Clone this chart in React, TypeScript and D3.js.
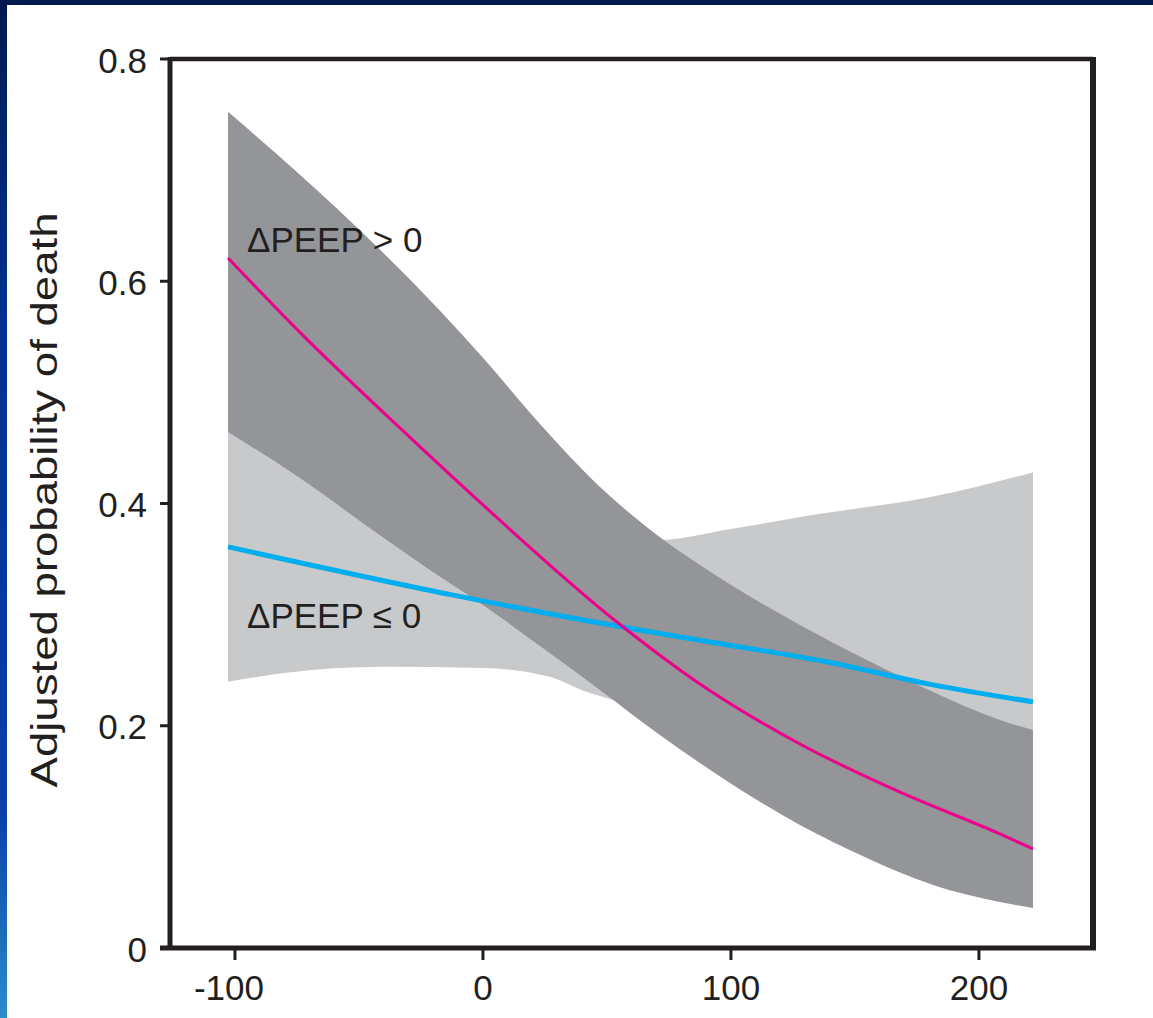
import React from "react";
import * as d3 from "d3";

// x tick values / y tick values
const xTicks = [-100, 0, 100, 200];
const yTicks = [0, 0.2, 0.4, 0.6, 0.8];
const yTickLabels = ["0", "0.2", "0.4", "0.6", "0.8"];

// ΔPEEP > 0 fitted line (pink)
const posFitX = [-102.8, -73.8, -33.5, 0, 54, 87.5, 127.8, 168, 208.5, 221.8];
const posFitY = [0.621, 0.554, 0.468, 0.3987, 0.2934, 0.2376, 0.1836, 0.1404, 0.1026, 0.0891];

// ΔPEEP <= 0 fitted line (blue)
const negFitX = [-102.8, -13, 47, 87.5, 141, 181, 221.8];
const negFitY = [0.361, 0.318, 0.2925, 0.277, 0.2565, 0.237, 0.2215];

// ΔPEEP > 0 confidence band (dark gray)
const posBandX = [-102.8, -73.8, -44.4, -17.3, 0, 23, 47.2, 70.2, 87.5, 127.8, 154.8, 181.5, 208.5, 221.8];
const posBandHi = [0.7525, 0.6958, 0.6346, 0.5734, 0.5311, 0.4716, 0.4149, 0.3717, 0.3447, 0.2907, 0.2592, 0.2304, 0.2052, 0.1962];
const posBandLo = [0.4644, 0.423, 0.376, 0.334, 0.3087, 0.2718, 0.2322, 0.1935, 0.1665, 0.1107, 0.081, 0.0567, 0.0414, 0.036];

// ΔPEEP <= 0 confidence band (light gray)
const negBandX = [-102.8, -80, -40, 0, 27, 40, 70, 100, 134, 181, 221.8];
const negBandHi = [0.466, 0.45, 0.42, 0.39, 0.375, 0.37, 0.367, 0.377, 0.39, 0.406, 0.428];
const negBandLo = [0.2395, 0.2475, 0.253, 0.252, 0.244, 0.232, 0.215, 0.207, 0.2, 0.196, 0.1945];

const W = 1153;
const H = 1018;
const left = 170;
const right = 1093;
const top = 59;
const bottom = 948;

const font = "'Liberation Sans', Arial, Helvetica, sans-serif";
const ink = "#231f20";

export default function App() {
  const x = d3.scaleLinear().domain([-126.2, 246]).range([left, right]);
  const y = d3.scaleLinear().domain([0, 0.8]).range([bottom, top]);

  const band = (xs: number[], hi: number[], lo: number[]) =>
    d3
      .area<number>()
      .x((d) => x(xs[d]))
      .y0((d) => y(lo[d]))
      .y1((d) => y(hi[d]))
      .curve(d3.curveMonotoneX)(d3.range(xs.length)) || "";

  const fit = (xs: number[], ys: number[]) =>
    d3
      .line<number>()
      .x((d) => x(xs[d]))
      .y((d) => y(ys[d]))
      .curve(d3.curveMonotoneX)(d3.range(xs.length)) || "";

  return (
    <svg
      width={W}
      height={H}
      style={{ position: "absolute", left: 0, top: 0, display: "block" }}
    >
      <defs>
        <linearGradient id="side" x1="0" y1="0" x2="0" y2="1">
          <stop offset="0" stopColor="#001a50" />
          <stop offset="0.3" stopColor="#00308f" />
          <stop offset="0.8" stopColor="#0a40a8" />
          <stop offset="1" stopColor="#2a8ccc" />
        </linearGradient>
      </defs>
      <rect x={0} y={0} width={W} height={H} fill="url(#side)" />
      <rect x={0} y={0} width={W} height={5} fill="#001a4f" />
      <rect x={7} y={5} width={W - 7} height={H - 5} fill="#ffffff" />

      {/* confidence bands */}
      <path d={band(negBandX, negBandHi, negBandLo)} fill="#c8c9cb" />
      <path d={band(posBandX, posBandHi, posBandLo)} fill="#939598" />

      {/* fitted lines */}
      <path d={fit(negFitX, negFitY)} fill="none" stroke="#00aeef" strokeWidth={5} />
      <path d={fit(posFitX, posFitY)} fill="none" stroke="#ec008c" strokeWidth={3} />

      {/* group labels */}
      <text x={247} y={252} fontFamily={font} fontSize={35} fill={ink}>
        ΔPEEP &gt; 0
      </text>
      <text x={247} y={628} fontFamily={font} fontSize={35} fill={ink}>
        ΔPEEP ≤ 0
      </text>

      {/* frame */}
      <line x1={left} x2={right} y1={top} y2={top} stroke={ink} strokeWidth={4.5} />
      <line x1={right} x2={right} y1={top - 2} y2={bottom + 2} stroke={ink} strokeWidth={6} />
      <line x1={left} x2={left} y1={top - 2} y2={bottom + 2} stroke={ink} strokeWidth={5} />
      <line x1={left - 10} x2={right + 3} y1={bottom} y2={bottom} stroke={ink} strokeWidth={5} />

      {/* y axis ticks */}
      {yTicks.map((t, i) => (
        <g key={"y" + t}>
          <line x1={left - 10} x2={left} y1={y(t)} y2={y(t)} stroke={ink} strokeWidth={3} />
          <text
            x={147}
            y={y(t) + 1}
            textAnchor="end"
            dominantBaseline="central"
            fontFamily={font}
            fontSize={35}
            fill={ink}
          >
            {yTickLabels[i]}
          </text>
        </g>
      ))}

      {/* x axis ticks */}
      {xTicks.map((t) => (
        <g key={"x" + t}>
          <line x1={x(t)} x2={x(t)} y1={bottom} y2={bottom + 12} stroke={ink} strokeWidth={3} />
          <text
            x={x(t) - (t < 0 ? 6 : 0)}
            y={1000}
            textAnchor="middle"
            fontFamily={font}
            fontSize={35}
            fill={ink}
          >
            {t}
          </text>
        </g>
      ))}

      {/* y axis title */}
      <text
        transform="translate(57,500) rotate(-90)"
        textAnchor="middle"
        fontFamily={font}
        fontSize={36}
        fill={ink}
        textLength={575}
        lengthAdjust="spacingAndGlyphs"
      >
        Adjusted probability of death
      </text>
    </svg>
  );
}
